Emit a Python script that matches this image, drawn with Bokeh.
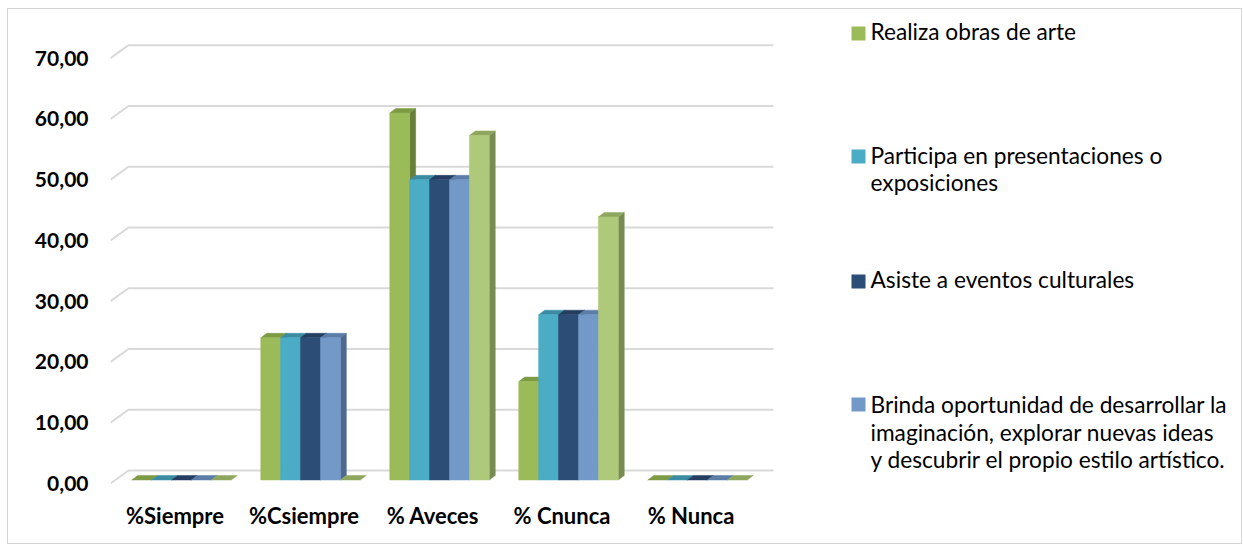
from bokeh.plotting import figure
from bokeh.models import Range1d, FixedTicker
from bokeh.layouts import column
from bokeh.embed import file_html
from bokeh.resources import INLINE
from bokeh.core.properties import value

# ---- data -------------------------------------------------------------
categories = ["%Siempre", "%Csiempre", "% Aveces", "% Cnunca", "% Nunca"]

realiza_obras = [0.00, 23.40, 60.40, 16.20, 0.00]
participa_presentaciones = [0.00, 23.40, 49.40, 27.20, 0.00]
asiste_eventos = [0.00, 23.40, 49.40, 27.20, 0.00]
brinda_oportunidad = [0.00, 23.40, 49.40, 27.20, 0.00]
quinta_serie = [0.00, 0.00, 56.70, 43.30, 0.00]

series_values = [realiza_obras, participa_presentaciones, asiste_eventos,
                 brinda_oportunidad, quinta_serie]

legend_lines = [
    ["Realiza obras de arte"],
    ["Participa en presentaciones o", "exposiciones"],
    ["Asiste a eventos culturales"],
    ["Brinda oportunidad de desarrollar la",
     "imaginación, explorar nuevas ideas",
     "y descubrir el propio estilo artístico."],
]

y_ticks = [0, 10, 20, 30, 40, 50, 60, 70]
y_tick_labels = ["0,00", "10,00", "20,00", "30,00", "40,00", "50,00", "60,00", "70,00"]

# (front, top, side) shades for each series
shades = [
    ("#9BBB59", "#7D9A45", "#687F38"),
    ("#4BACC6", "#3B8CA2", "#35798C"),
    ("#2C4D75", "#233E60", "#1E3553"),
    ("#7399C9", "#5B7DA8", "#4D6990"),
    ("#AFC97A", "#8EA65E", "#778C52"),
]

# ---- geometry (pixels per data unit) ----------------------------------
PX_X = 129.0     # one category
PX_Y = 6.076     # one percentage point

FONT = "Lato"

p = figure(width=1233, height=534, output_backend="svg", toolbar_location=None,
           x_range=Range1d(0, 1128 / PX_X), y_range=Range1d(-7 / PX_Y, 471 / PX_Y),
           min_border_left=102, min_border_right=3, min_border_top=3,
           min_border_bottom=53, background_fill_color="white",
           border_fill_color="white")
p.extra_x_ranges = {"px": Range1d(110, 1238)}
p.extra_y_ranges = {"py": Range1d(490, 12)}
p.outline_line_color = None
p.xgrid.visible = False
p.ygrid.visible = False

# back-wall gridlines with their diagonal return to the front edge
n_cat = len(categories)
gx, gy = 18 / PX_X, 13 / PX_Y
p.multi_line(xs=[[0, gx, n_cat + gx] for _ in y_ticks],
             ys=[[v, v + gy, v + gy] for v in y_ticks],
             line_color="#D9D9D9", line_width=2)

# 3-D clustered columns: side, top and front face of every bar
bw = 19.9 / PX_X
bx, by = 6.5 / PX_X, 3.5 / PX_Y
dx, dy = 6.0 / PX_X, 4.5 / PX_Y
n_ser = len(series_values)

xs, ys, colors = [], [], []
for i in range(n_cat):
    for k, vals in enumerate(series_values):
        v = vals[i]
        front, top, side = shades[k]
        xl = i + 0.5 - n_ser * bw / 2 + k * bw + bx
        xr = xl + bw
        yb, yt = by, by + v
        if v > 0:
            xs.append([xr, xr + dx, xr + dx, xr])
            ys.append([yb, yb + dy, yt + dy, yt])
            colors.append(side)
        xs.append([xl, xr, xr + dx, xl + dx])
        ys.append([yt, yt, yt + dy, yt + dy])
        colors.append(top)
        if v > 0:
            xs.append([xl, xr, xr, xl])
            ys.append([yb, yb, yt, yt])
            colors.append(front)

p.patches(xs=xs, ys=ys, fill_color=colors, line_color=colors, line_width=0.5)

# axes
p.xaxis.ticker = FixedTicker(ticks=[i + 0.5 for i in range(n_cat)])
p.xaxis.major_label_overrides = {i + 0.5: c for i, c in enumerate(categories)}
p.yaxis.ticker = FixedTicker(ticks=y_ticks)
p.yaxis.major_label_overrides = dict(zip(y_ticks, y_tick_labels))
for ax in (p.xaxis, p.yaxis):
    ax.axis_line_color = None
    ax.major_tick_line_color = None
    ax.minor_tick_line_color = None
    ax.major_tick_in = 0
    ax.major_tick_out = 0
    ax.major_label_text_font = FONT
    ax.major_label_text_font_style = "bold"
    ax.major_label_text_color = "#000000"
p.yaxis.major_label_text_font_size = "21px"
p.xaxis.major_label_text_font_size = "22px"
p.yaxis.major_label_standoff = 22
p.xaxis.major_label_standoff = 11

# legend (page-pixel coordinates on the extra ranges)
sq_tops = [26, 149, 274, 397]
baselines = [[30.5], [155, 182], [279], [404, 431.5, 459]]
p.quad(left=[851] * 4, right=[865] * 4, top=sq_tops, bottom=[t + 14 for t in sq_tops],
       fill_color=[s[0] for s in shades[:4]], line_color=None,
       x_range_name="px", y_range_name="py")
tx, ty, tt = [], [], []
for lines, bls in zip(legend_lines, baselines):
    for line, b in zip(lines, bls):
        tx.append(870)
        ty.append(b)
        tt.append(line)
p.text(x=tx, y=ty, text=tt, text_font=value(FONT), text_font_size="22.7px",
       text_baseline="alphabetic", text_align="left", text_color="#000000",
       x_range_name="px", y_range_name="py")

root = column(p, styles={"margin-left": "7px", "margin-top": "8px",
                         "border": "1px solid #D4D4D4"})

open("out.html", "w").write(file_html(root, INLINE))
